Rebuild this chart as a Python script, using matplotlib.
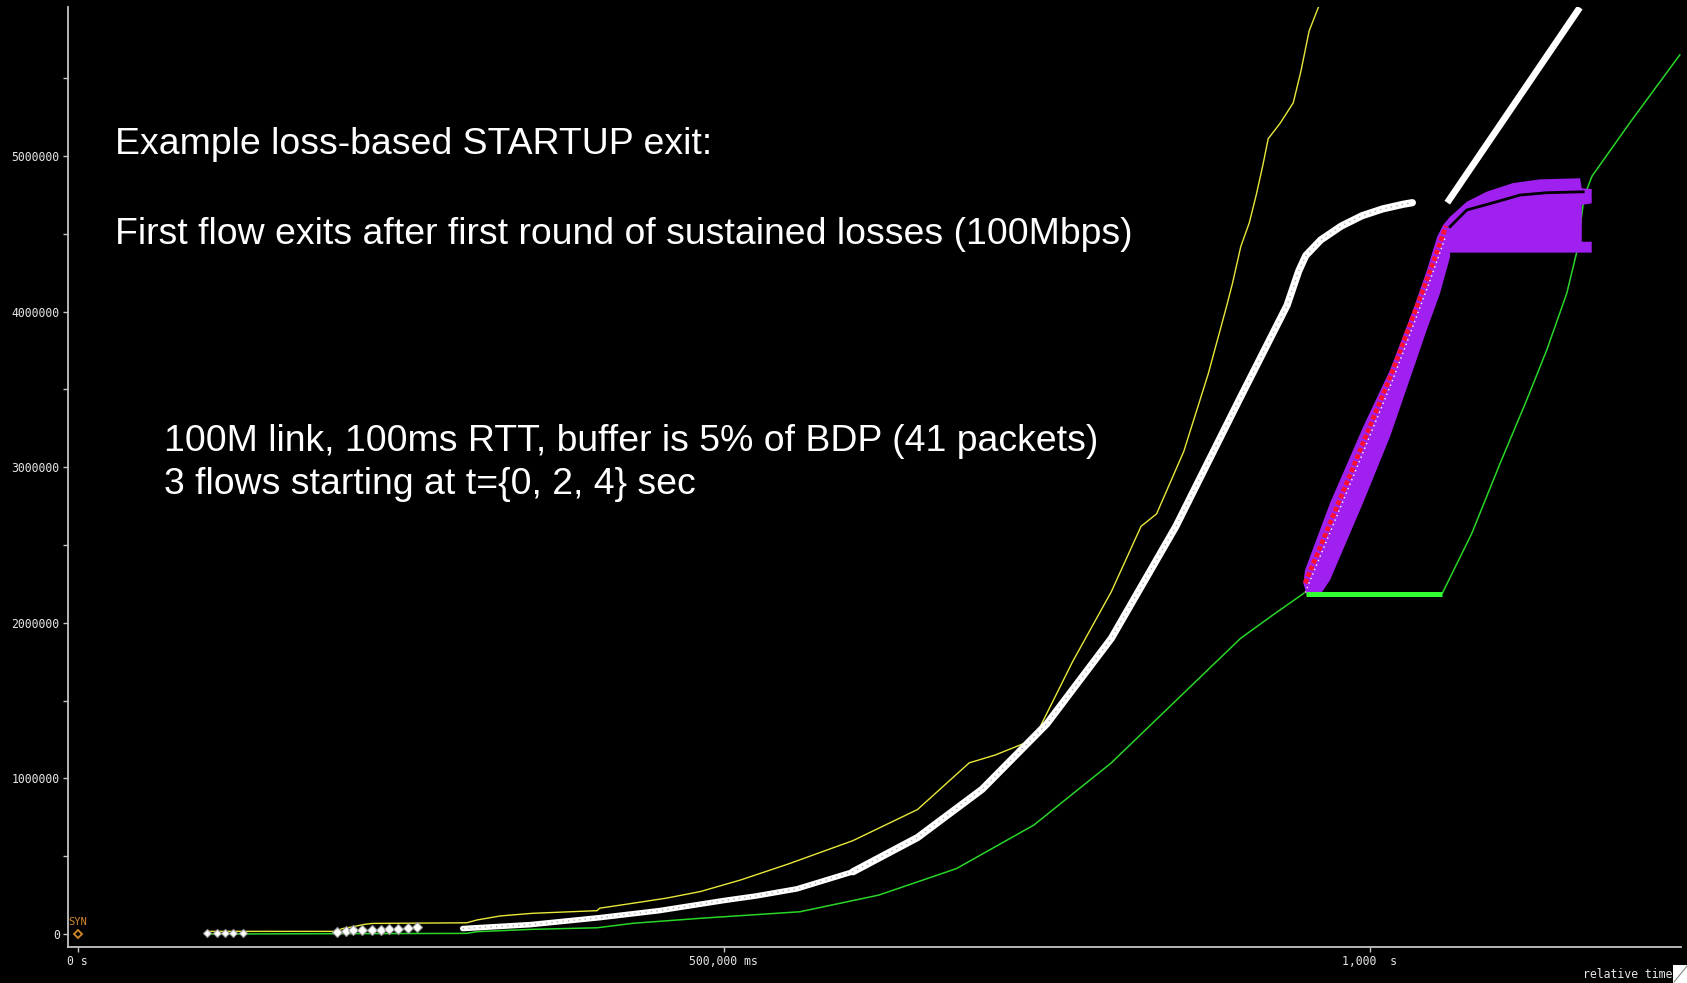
import numpy as np
import matplotlib
matplotlib.use("Agg")
import matplotlib.pyplot as plt
from matplotlib.ticker import FixedLocator, MultipleLocator, NullFormatter
from matplotlib.patches import Rectangle
from matplotlib.lines import Line2D

# ---------------- time / sequence series (seconds, bytes) ----------------
# receive window (yellow)
win_t = [0.100, 0.199, 0.205, 0.212, 0.222, 0.228, 0.301, 0.309, 0.327, 0.352,
         0.402, 0.404, 0.430, 0.456, 0.482, 0.513, 0.550, 0.600, 0.650, 0.690,
         0.710, 0.740, 0.770, 0.800, 0.823, 0.835, 0.856, 0.875, 0.8888, 0.8936,
         0.9002, 0.9068, 0.9121, 0.9174, 0.9214, 0.9306, 0.9408, 0.9466, 0.9531, 0.9604]
win_seq = [17e3, 17e3, 35e3, 45e3, 62e3, 68e3, 72e3, 90e3, 116e3, 133e3,
           150e3, 166e3, 198e3, 231e3, 273e3, 347e3, 450e3, 600e3, 800e3, 1100e3,
           1150e3, 1250e3, 1750e3, 2200e3, 2620e3, 2700e3, 3100e3, 3600e3, 4022e3, 4176e3,
           4418e3, 4572e3, 4748e3, 4946e3, 5111e3, 5210e3, 5342e3, 5540e3, 5804e3, 5959e3]

# cumulative ACK (green)
ack_t = [0.100, 0.301, 0.309, 0.352, 0.402, 0.430, 0.482, 0.559, 0.620, 0.680,
         0.740, 0.800, 0.850, 0.900, 0.925, 0.949]
ack_seq = [0, 4e3, 15e3, 30e3, 40e3, 69e3, 101e3, 143e3, 250e3, 420e3,
           700e3, 1100e3, 1500e3, 1900e3, 2050e3, 2190e3]
ack2_t = [1.0562, 1.079, 1.1009, 1.1215, 1.137, 1.1525, 1.160, 1.166, 1.172, 1.201, 1.240]
ack2_seq = [2190e3, 2575e3, 3025e3, 3432e3, 3753e3, 4118e3, 4375e3, 4740e3, 4870e3, 5210e3, 5650e3]
# duplicate ACKs held at the same point
dup_t = [0.951, 1.056]
dup_seq = [2185e3, 2185e3]

# data segments sent (white)
seg1_t = [0.0998, 0.1076, 0.1140, 0.1202, 0.1277]
seg1_seq = [4e3, 4e3, 4e3, 4e3, 4e3]
seg2_t = [0.2005, 0.2074, 0.2131, 0.2201, 0.2278, 0.2348, 0.2409, 0.2479, 0.2556, 0.2626]
seg2_seq = [15e3, 19e3, 24e3, 27e3, 28e3, 28e3, 32e3, 32e3, 37e3, 43e3]
seg3_t = [0.298, 0.350, 0.404, 0.450, 0.500, 0.5255, 0.5566, 0.600, 0.650, 0.700,
          0.750, 0.800, 0.850, 0.900, 0.936, 0.945, 0.9505, 0.962, 0.978, 0.994,
          1.010, 1.026, 1.033]
seg3_seq = [35e3, 60e3, 105e3, 150e3, 215e3, 245e3, 290e3, 400e3, 620e3, 930e3,
            1350e3, 1900e3, 2620e3, 3450e3, 4040e3, 4260e3, 4360e3, 4460e3, 4550e3, 4616e3,
            4660e3, 4690e3, 4700e3]
seg4_t = [1.060, 1.1626]
seg4_seq = [4700e3, 5954e3]

# SACK blocks (purple): outline, upper edge then lower edge
sack_hi_t = [0.9486, 0.9499, 0.9693, 0.9948, 1.0157, 1.0335, 1.0443, 1.0521, 1.0567,
             1.0622, 1.0751, 1.0906, 1.1109, 1.1318, 1.1628, 1.1641, 1.1718, 1.1718,
             1.1641, 1.1641, 1.1718, 1.1718]
sack_hi_seq = [2254e3, 2339e3, 2770e3, 3258e3, 3625e3, 4010e3, 4267e3, 4479e3, 4556e3,
               4610e3, 4706e3, 4771e3, 4826e3, 4850e3, 4857e3, 4792e3, 4788e3, 4696e3,
               4685e3, 4449e3, 4449e3, 4379e3]
sack_lo_t = [1.0622, 1.0622, 1.0544, 1.0441, 1.0335, 1.0157, 0.9948, 0.9693, 0.9615, 0.9512]
sack_lo_seq = [4379e3, 4353e3, 4118e3, 3882e3, 3625e3, 3196e3, 2770e3, 2275e3, 2179e3, 2179e3]
gap_t = [1.0622, 1.0751, 1.0983, 1.1163, 1.1370, 1.1652]
gap_seq = [4546e3, 4653e3, 4706e3, 4749e3, 4764e3, 4770e3]

# retransmitted segments (red)
rexmit_t = [0.950, 0.9863, 1.018, 1.047, 1.059]
rexmit_seq = [2254e3, 2982e3, 3625e3, 4267e3, 4550e3]

# ---------------- text ----------------
y_ticks = [0, 1000000, 2000000, 3000000, 4000000, 5000000]
x_ticks = [0.0, 0.5, 1.0]
x_tick_labels = ["0 s", "500,000 ms", "1,000  s"]
notes = [
    "Example loss-based STARTUP exit:",
    "First flow exits after first round of sustained losses (100Mbps)",
    "100M link, 100ms RTT, buffer is 5% of BDP (41 packets)",
    "3 flows starting at t={0, 2, 4} sec",
]

W, H = 1687, 983
fig = plt.figure(figsize=(W / 100, H / 100), dpi=100, facecolor="black")
ax = fig.add_axes([68 / W, 1 - 946.7 / H, (1681 - 68) / W, (946.7 - 7) / H])
ax.set_facecolor("black")
ax.set_xlim(-0.0075, 1.2409)
ax.set_ylim(-81600, 5957600)

for side in ("top", "right"):
    ax.spines[side].set_visible(False)
for side in ("left", "bottom"):
    ax.spines[side].set_color("#c4c4c4")
    ax.spines[side].set_linewidth(1.3)

mono = "DejaVu Sans Mono"
ax.yaxis.set_major_locator(FixedLocator(y_ticks))
ax.yaxis.set_minor_locator(MultipleLocator(500000))
ax.yaxis.set_minor_formatter(NullFormatter())
ax.set_yticklabels([str(v) for v in y_ticks], fontfamily=mono, fontsize=8.3, color="#e6e6e6")
ax.set_xticks(x_ticks)
ax.set_xticklabels(x_tick_labels, fontfamily=mono, fontsize=8.3, color="#e6e6e6")
ax.tick_params(axis="both", which="both", colors="#c4c4c4", length=3.5, width=1.0,
               direction="out", pad=2.5, labelcolor="#e6e6e6")

GREEN = "#28d628"
LIME = "#33ff33"
YELLOW = "#e8e83a"
PURPLE = "#a020f0"
ORANGE = "#d48a2a"

ax.plot(ack_t, ack_seq, color=GREEN, lw=1.1, zorder=2)
ax.plot(ack2_t, ack2_seq, color=GREEN, lw=1.1, zorder=2)
ax.plot(win_t, win_seq, color=YELLOW, lw=1.0, zorder=2)

# segments
ax.plot(seg1_t, seg1_seq, ls="none", marker="D", ms=4.5, mfc="white", mec="#9a9a9a",
        mew=0.8, zorder=4)
ax.plot(seg2_t, seg2_seq, ls="none", marker="D", ms=4.8, mfc="white", mec="#9a9a9a",
        mew=0.8, zorder=4)
split = 8
ax.plot(seg3_t[:split], seg3_seq[:split], color="white", lw=4.0,
        solid_capstyle="round", solid_joinstyle="round", zorder=4)
ax.plot(seg3_t[split - 1:], seg3_seq[split - 1:], color="white", lw=5.2,
        solid_capstyle="round", solid_joinstyle="round", zorder=4)
ax.plot(seg3_t, seg3_seq, color="#b0b0b0", lw=1.0, ls=(0, (1, 3)), zorder=4)
ax.plot(seg4_t, seg4_seq, color="white", lw=4.8, solid_capstyle="butt", zorder=4)

# SACK blocks
ax.fill(np.r_[sack_hi_t, sack_lo_t], np.r_[sack_hi_seq, sack_lo_seq],
        color=PURPLE, lw=0, zorder=5)
ax.plot(gap_t, gap_seq, color="black", lw=2.0, zorder=6)

# retransmissions
ax.plot(rexmit_t, rexmit_seq, color="#ff1030", lw=3.4, ls=(0, (1.0, 0.5)), zorder=7)
ax.plot(rexmit_t, np.array(rexmit_seq) - 60e3, color="white", lw=1.0,
        ls=(0, (1, 2.5)), zorder=7)

# duplicate-ACK bar
ax.plot(dup_t, dup_seq, color=LIME, lw=3.6, solid_capstyle="butt", zorder=8)

# SYN
ax.plot([0], [0], ls="none", marker="D", ms=4.5, mfc="none", mec=ORANGE, mew=1.3, zorder=8)
ax.text(-0.0072, 80000, "SYN", color=ORANGE, fontfamily=mono, fontsize=7.5,
        ha="left", va="center", zorder=8)

# annotations
sans = "Liberation Sans"
fs = 26.9
fig.text(115 / W, 1 - 154 / H, notes[0], color="white", fontfamily=sans, fontsize=fs,
         ha="left", va="baseline")
fig.text(115 / W, 1 - 244 / H, notes[1], color="white", fontfamily=sans, fontsize=fs,
         ha="left", va="baseline")
fig.text(163.5 / W, 1 - 451 / H, notes[2], color="white", fontfamily=sans, fontsize=fs,
         ha="left", va="baseline")
fig.text(163.5 / W, 1 - 494 / H, notes[3], color="white", fontfamily=sans, fontsize=fs,
         ha="left", va="baseline")

# axis caption and corner box
fig.text(1672 / W, 1 - 975 / H, "relative time", color="#e6e6e6", fontfamily=mono,
         fontsize=8.3, ha="right", va="center")
fig.add_artist(Rectangle((1673 / W, 0), 14 / W, 18 / H, transform=fig.transFigure,
                         facecolor="white", edgecolor="none"))
fig.add_artist(Line2D([1674 / W, 1687 / W], [1 / H, 17 / H], transform=fig.transFigure,
                      color="#888888", lw=0.8))

fig.savefig("out.png", dpi=100, facecolor="black")
